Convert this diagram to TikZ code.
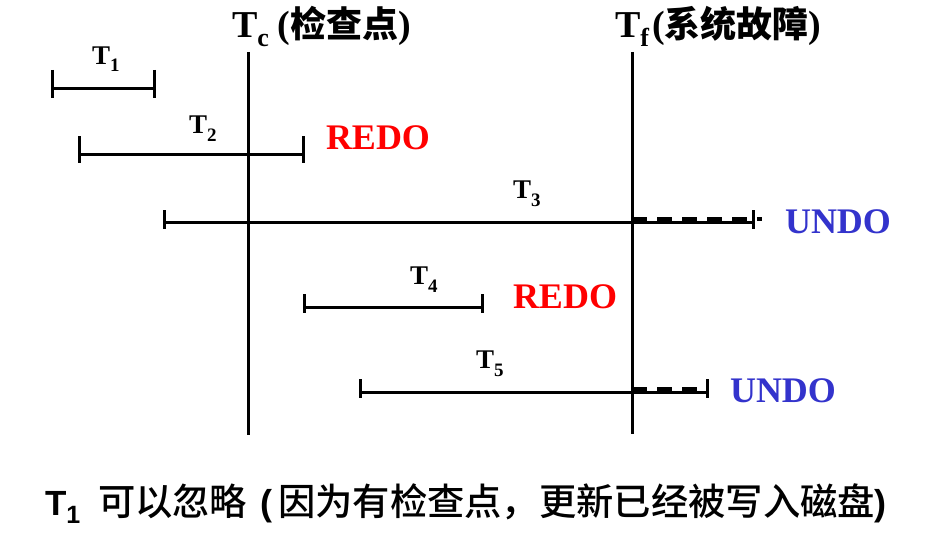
\documentclass[tikz,border=0pt]{standalone}
\usepackage{fontspec}
\setmainfont{Liberation Serif}
\newfontfamily\cjk{Noto Sans CJK SC Medium}
\newfontfamily\cjkb{Noto Sans CJK SC Bold}
\newfontfamily\arialb{Liberation Sans Bold}
\usetikzlibrary{calc}
\definecolor{redoRed}{RGB}{255,0,0}
\definecolor{undoBlue}{RGB}{51,51,204}
\newcommand{\fs}[1]{\fontsize{#1pt}{#1pt}\selectfont}
\newcommand{\tlab}[1]{\fs{27}\bfseries T\raisebox{-8pt}{\fs{19}#1}}
\tikzset{
  txt/.style={anchor=base west, inner sep=0pt, outer sep=0pt},
  timeline/.style={line width=3pt, black},
  vline/.style={line width=3pt, black},
  tickmark/.style={line width=3pt, black},
  lostpart/.style={line width=4pt, black, dash pattern=on 15pt off 10pt},
  redolab/.style={txt, text=redoRed, font=\fs{36}\bfseries},
  undolab/.style={txt, text=undoBlue, font=\fs{36}\bfseries},
}
\begin{document}
\begin{tikzpicture}[x=1pt,y=-1pt]
\useasboundingbox (0,0) rectangle (945,551);

% vertical lines
\coordinate (tctop) at (248,52);
\coordinate (tcbot) at (248,435);
\coordinate (tftop) at (632,52);
\coordinate (tfbot) at (632,434);
\draw[vline] (tctop) -- (tcbot);
\draw[vline] (tftop) -- (tfbot);

% headers
\node[txt] (tc) at (232,38) {\fs{38}\bfseries T\raisebox{-9pt}{\fs{26}c}\hspace{9pt}(\mbox{\cjkb\fs{36}检查点}\mbox{\fs{38}\bfseries )}};
\node[txt] (tf) at (615,38) {\fs{38}\bfseries T\raisebox{-9pt}{\fs{26}f}\hspace{3pt}(\mbox{\cjkb\fs{36}系统故障}\mbox{\fs{38}\bfseries )}};

% T1
\coordinate (t1s) at (52,88);
\coordinate (t1e) at (154,88);
\draw[timeline] (t1s) -- (t1e);
\draw[tickmark] (t1s) ++(0,-18) -- ++(0,28);
\draw[tickmark] (t1e) ++(0,-18) -- ++(0,28);
\node[txt] (lt1) at (92,64) {\tlab{1}};

% T2
\coordinate (t2s) at (79,154);
\coordinate (t2e) at (303,154);
\draw[timeline] (t2s) -- (t2e);
\draw[tickmark] (t2s) ++(0,-18) -- ++(0,27);
\draw[tickmark] (t2e) ++(0,-18) -- ++(0,27);
\node[txt] (lt2) at (189,133) {\tlab{2}};
\node[redolab] (redo1) at (326,149) {REDO};

% T3
\coordinate (t3s) at (164,222);
\coordinate (t3e) at (753,222);
\coordinate (t3f) at (632,219);
\coordinate (t3x) at (762,219);
\draw[timeline] (t3s) -- (t3e);
\draw[lostpart] (t3f) -- (t3x);
\draw[tickmark] (t3s) ++(0,-12) -- ++(0,19);
\draw[tickmark] (t3e) ++(0,-12) -- ++(0,19);
\node[txt] (lt3) at (513,198) {\tlab{3}};
\node[undolab] (undo1) at (785,233) {UNDO};

% T4
\coordinate (t4s) at (304,307);
\coordinate (t4e) at (482,307);
\draw[timeline] (t4s) -- (t4e);
\draw[tickmark] (t4s) ++(0,-13) -- ++(0,19);
\draw[tickmark] (t4e) ++(0,-13) -- ++(0,19);
\node[txt] (lt4) at (410,284) {\tlab{4}};
\node[redolab] (redo2) at (513,308) {REDO};

% T5
\coordinate (t5s) at (360,392);
\coordinate (t5e) at (707,392);
\coordinate (t5f) at (632,389);
\coordinate (t5x) at (707,389);
\draw[timeline] (t5s) -- (t5e);
\draw[lostpart] (t5f) -- (t5x);
\draw[tickmark] (t5s) ++(0,-13) -- ++(0,19);
\draw[tickmark] (t5e) ++(0,-13) -- ++(0,19);
\node[txt] (lt5) at (476,368) {\tlab{5}};
\node[undolab] (undo2) at (730,402) {UNDO};

% bottom note
\node[txt] (note1) at (45,515) {\arialb\fs{35}T\raisebox{-8pt}{\fs{25}1}};
\node[txt] (note2) at (98,515) {\mbox{\cjk\fs{37.3}可以忽略}\hspace{13pt}\mbox{\arialb\fs{36}(}\hspace{6pt}\mbox{\cjk\fs{37.3}因为有检查点，更新已经被写入磁盘}\mbox{\arialb\fs{36})}};
\end{tikzpicture}
\end{document}
